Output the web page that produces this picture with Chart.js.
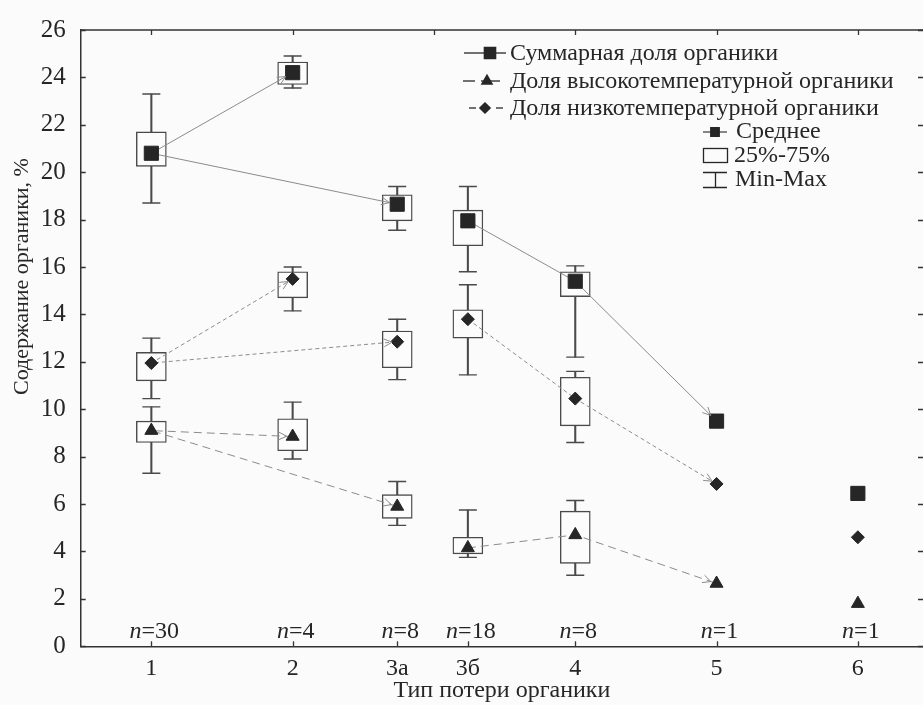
<!DOCTYPE html>
<html><head><meta charset="utf-8">
<script src="https://cdn.jsdelivr.net/npm/chart.js@4.4.1/dist/chart.umd.min.js"></script>
<style>html,body{margin:0;padding:0;background:#fbfbfb;overflow:hidden}#wrap{width:923px;height:705px;position:relative}</style>
</head><body><div id="wrap"><canvas id="c"></canvas></div>
<script>
// ---- data ----
const categories = ['1', '2', '3а', '3б', '4', '5', '6'];
const xPositions = [1, 2, 2.74, 3.24, 4, 5, 6];
const nCounts = ['30', '4', '8', '18', '8', '1', '1'];
const topTicks = [1, 2, 3, 4, 5, 6];

const totalMean = [20.8, 24.2, 18.65, 17.95, 15.4, 9.5, 6.45];
const totalQ1   = [20.25, 23.7, 17.95, 16.9, 14.75, null, null];
const totalQ3   = [21.7, 24.65, 19.05, 18.4, 15.8, null, null];
const totalMin  = [18.7, 23.55, 17.55, 15.8, 12.2, null, null];
const totalMax  = [23.3, 24.9, 19.4, 19.4, 16.05, null, null];

const highMean = [9.1, 8.85, 5.9, 4.15, 4.7, 2.65, 1.8];
const highQ1   = [8.6, 8.25, 5.4, 3.9, 3.5, null, null];
const highQ3   = [9.5, 9.6, 6.4, 4.6, 5.7, null, null];
const highMin  = [7.3, 7.9, 5.1, 3.75, 3.0, null, null];
const highMax  = [10.1, 10.3, 6.95, 5.75, 6.15, null, null];

const lowMean = [11.95, 15.5, 12.85, 13.8, 10.45, 6.85, 4.6];
const lowQ1   = [11.2, 14.7, 11.75, 13.0, 9.3, null, null];
const lowQ3   = [12.4, 15.8, 13.3, 14.2, 11.35, null, null];
const lowMin  = [10.45, 14.15, 11.25, 11.45, 8.6, null, null];
const lowMax  = [13.0, 16.0, 13.8, 15.25, 11.6, null, null];

// connection paths (indices) and arrow links (from -> to)
const paths = [[1, 0, 2], [3, 4, 5], [6]];
const arrowLinks = [[0, 1], [0, 2], [4, 5]];

const yTitle = 'Содержание органики, %';
const xTitle = 'Тип потери органики';

// ---- styling ----
const FONT = "'Liberation Serif','Times New Roman',serif";
const INK = '#262626';
const BOXC = '#4a4a4a';
const LINEC = '#8c8c8c';

const series = [
  {label: 'Суммарная доля органики', mean: totalMean, q1: totalQ1, q3: totalQ3, min: totalMin, max: totalMax,
   style: 'rect', radius: 10, dash: []},
  {label: 'Доля высокотемпературной органики', mean: highMean, q1: highQ1, q3: highQ3, min: highMin, max: highMax,
   style: 'triangle', radius: 7.5, dash: [8, 5]},
  {label: 'Доля низкотемпературной органики', mean: lowMean, q1: lowQ1, q3: lowQ3, min: lowMin, max: lowMax,
   style: 'rectRot', radius: 6.5, dash: [4, 3]}
];

function rangeData(lo, hi) {
  return xPositions.map((x, i) => lo[i] == null ? null : {x: x, y: [lo[i], hi[i]]}).filter(Boolean);
}
function pointData(v) {
  return xPositions.map((x, i) => v[i] == null ? null : {x: x, y: v[i]}).filter(Boolean);
}
function lineData(mean) {
  const out = [];
  paths.forEach((p, k) => {
    if (k > 0) out.push({x: xPositions[p[0]], y: null});
    p.forEach(i => out.push({x: xPositions[i], y: mean[i]}));
  });
  return out;
}

const datasets = [];
series.forEach(s => {
  datasets.push({type: 'bar', data: rangeData(s.min, s.max), barThickness: 1.4, grouped: false,
    backgroundColor: BOXC, borderWidth: 0, order: 10});
  datasets.push({type: 'bar', data: rangeData(s.q1, s.q3), barThickness: 30, grouped: false,
    backgroundColor: '#fcfcfc', borderColor: BOXC, borderWidth: 1.4, borderSkipped: false, order: 8});
  datasets.push({type: 'scatter', data: pointData(s.min).concat(pointData(s.max)), pointStyle: 'line',
    pointRadius: 9, pointBorderWidth: 1.4, pointBorderColor: BOXC, borderColor: BOXC, order: 6});
  datasets.push({type: 'line', label: s.label, data: lineData(s.mean), borderColor: LINEC, borderWidth: 1,
    borderDash: s.dash, spanGaps: false, fill: false, pointStyle: s.style, pointRadius: s.radius,
    pointBackgroundColor: INK, pointBorderColor: INK, pointBorderWidth: 1, order: 0});
});

const decor = {
  id: 'decor',
  beforeDraw(chart) {
    const {ctx, width, height} = chart;
    ctx.save(); ctx.fillStyle = '#fbfbfb'; ctx.fillRect(0, 0, width, height); ctx.restore();
  },
  afterDraw(chart) {
    const {ctx, chartArea: a, scales: {x, y}} = chart;
    ctx.save();
    ctx.strokeStyle = '#333'; ctx.lineWidth = 1.5;
    ctx.beginPath(); ctx.moveTo(a.left, a.top); ctx.lineTo(a.right, a.top); ctx.stroke();
    ctx.lineWidth = 1.3;
    y.ticks.forEach(t => {
      const py = Math.round(y.getPixelForValue(t.value)) + 0.5;
      ctx.beginPath();
      ctx.moveTo(a.left, py); ctx.lineTo(a.left + 5, py);
      ctx.moveTo(a.right, py); ctx.lineTo(a.right - 5, py);
      ctx.stroke();
    });
    topTicks.forEach(v => {
      const px = Math.round(x.getPixelForValue(v)) + 0.5;
      ctx.beginPath(); ctx.moveTo(px, a.top); ctx.lineTo(px, a.top + 5); ctx.stroke();
    });
    xPositions.forEach(v => {
      const px = Math.round(x.getPixelForValue(v)) + 0.5;
      ctx.beginPath(); ctx.moveTo(px, a.bottom); ctx.lineTo(px, a.bottom - 5); ctx.stroke();
    });
    // y title
    ctx.save();
    ctx.fillStyle = INK; ctx.font = '22px ' + FONT; ctx.textAlign = 'center'; ctx.textBaseline = 'middle';
    ctx.translate(22, y.getPixelForValue(15.6)); ctx.rotate(-Math.PI / 2);
    ctx.fillText(yTitle, 0, 0);
    ctx.restore();
    // n labels
    ctx.fillStyle = INK; ctx.textBaseline = 'alphabetic';
    const fI = 'italic 24px ' + FONT, fN = '24px ' + FONT;
    xPositions.forEach((v, i) => {
      const px = x.getPixelForValue(v);
      ctx.font = fI; const w1 = ctx.measureText('n').width;
      ctx.font = fN; const w2 = ctx.measureText('=' + nCounts[i]).width;
      const x0 = px - (w1 + w2) / 2 + 3;
      ctx.font = fI; ctx.textAlign = 'left'; ctx.fillText('n', x0, a.bottom - 8);
      ctx.font = fN; ctx.fillText('=' + nCounts[i], x0 + w1, a.bottom - 8);
    });
    // arrowheads
    series.forEach(s => {
      ctx.strokeStyle = LINEC; ctx.lineWidth = 1; ctx.setLineDash([]);
      arrowLinks.forEach(([f, t]) => {
        const x1 = x.getPixelForValue(xPositions[f]), y1 = y.getPixelForValue(s.mean[f]);
        const x2 = x.getPixelForValue(xPositions[t]), y2 = y.getPixelForValue(s.mean[t]);
        const L = Math.hypot(x2 - x1, y2 - y1), ux = (x2 - x1) / L, uy = (y2 - y1) / L;
        const tx = x2 - ux * (s.radius * 0.8), ty = y2 - uy * (s.radius * 0.8);
        const ang = Math.atan2(uy, ux);
        ctx.beginPath();
        [0.45, -0.45].forEach(d => {
          ctx.moveTo(tx, ty);
          ctx.lineTo(tx - 9 * Math.cos(ang + d), ty - 9 * Math.sin(ang + d));
        });
        ctx.stroke();
      });
    });
    // legend
    const drawP = (style, r, px, py) => {
      ctx.fillStyle = INK; ctx.strokeStyle = INK; ctx.setLineDash([]);
      Chart.helpers.drawPoint(ctx, {pointStyle: style, radius: r, rotation: 0, borderWidth: 1}, px, py);
    };
    ctx.font = '24px ' + FONT; ctx.textBaseline = 'middle'; ctx.textAlign = 'left';
    const rows = [53, 81, 108];
    const samples = [[464, 506, 490], [463, 500, 487], [469, 503, 485]];
    series.forEach((s, i) => {
      const [l, r, m] = samples[i];
      ctx.strokeStyle = '#444'; ctx.lineWidth = 1.3;
      ctx.setLineDash(i === 1 ? [12, 6, 2, 6] : (i === 2 ? [7, 20] : []));
      ctx.beginPath(); ctx.moveTo(l, rows[i]); ctx.lineTo(r, rows[i]); ctx.stroke();
      drawP(s.style, s.radius * 0.8, m, rows[i]);
      ctx.fillStyle = INK; ctx.fillText(s.label, 510, rows[i] + 1);
    });
    // key
    ctx.setLineDash([]); ctx.strokeStyle = '#444'; ctx.lineWidth = 1.3;
    ctx.beginPath(); ctx.moveTo(703, 132); ctx.lineTo(727, 132); ctx.stroke();
    drawP('rect', 6, 715, 132);
    ctx.strokeRect(703.5, 148.5, 24, 14);
    ctx.beginPath();
    ctx.moveTo(703, 172.5); ctx.lineTo(727, 172.5);
    ctx.moveTo(703, 187.5); ctx.lineTo(727, 187.5);
    ctx.moveTo(715.5, 172.5); ctx.lineTo(715.5, 187.5);
    ctx.stroke();
    ctx.fillStyle = INK;
    ctx.fillText('Среднее', 736, 132);
    ctx.fillText('25%-75%', 734, 156);
    ctx.fillText('Min-Max', 735, 180);
    ctx.restore();
  }
};

new Chart(document.getElementById('c'), {
  type: 'bar',
  data: {datasets: datasets},
  options: {
    responsive: true, maintainAspectRatio: false, animation: false, events: [],
    layout: {autoPadding: false, padding: {top: 20, right: 0, left: 0, bottom: 0}},
    plugins: {legend: {display: false}, tooltip: {enabled: false}},
    scales: {
      x: {
        type: 'linear', min: 0.5, max: 6.461, offset: false,
        afterBuildTicks: s => { s.ticks = xPositions.map(v => ({value: v})); },
        afterFit: s => { s.height = 58.7; s.paddingRight = 0; s.paddingLeft = 0; },
        ticks: {autoSkip: false, maxRotation: 0, padding: 8, color: INK,
          font: {family: FONT, size: 24}, callback: (v, i) => categories[i]},
        grid: {drawOnChartArea: false, drawTicks: false, offset: false},
        border: {display: true, color: '#333', width: 1.5},
        title: {display: true, text: xTitle, color: INK,
          font: {family: FONT, size: 24}, padding: {top: 0, bottom: 0}}
      },
      y: {
        min: 0, max: 26,
        afterFit: s => { s.width = 80.7; },
        ticks: {stepSize: 2, padding: 15, color: INK, font: {family: FONT, size: 25}},
        grid: {drawOnChartArea: false, drawTicks: false},
        border: {display: true, color: '#333', width: 1.5},
        title: {display: false}
      }
    }
  },
  plugins: [decor]
});
</script>
</body></html>
